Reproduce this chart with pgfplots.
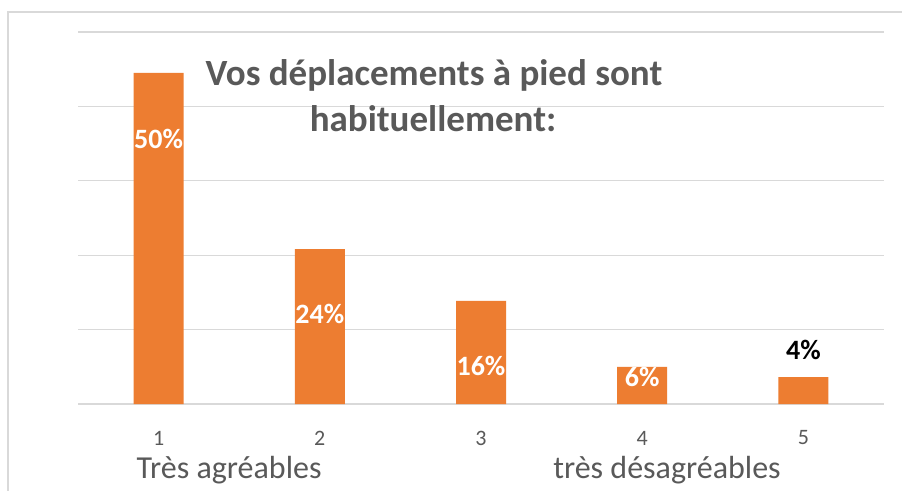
\documentclass[border=0pt]{standalone}
\usepackage{pgfplots}
\pgfplotsset{compat=1.18}
\usepackage{fontspec}
\setmainfont{Carlito}
\definecolor{barorange}{HTML}{ED7D31}
\definecolor{gridgray}{HTML}{D9D9D9}
\definecolor{txtgray}{HTML}{595959}
\begin{document}
\begin{tikzpicture}
\useasboundingbox (0pt,0pt) rectangle (902pt,490pt);
\clip (0pt,0pt) rectangle (902pt,490pt);
\fill[white] (0pt,0pt) rectangle (902pt,490pt);
\draw[gridgray, line width=1.2pt] (8pt,-20pt) -- (8pt,478pt) -- (930pt,478pt);
\begin{axis}[
  at={(78pt,86pt)}, anchor=south west,
  width=806pt, height=372pt, scale only axis,
  xmin=0.5, xmax=5.5, ymin=0, ymax=5,
  axis line style={draw=none},
  major tick length=0pt,
  xtick={1,2,3,4,5},
  ytick={0,1,2,3,4,5}, yticklabels={},
  ymajorgrids,
  major grid style={draw=gridgray, line width=1.2pt},
  /pgf/number format/assume math mode=true,
  xticklabel style={anchor=center, yshift=-34pt, font=\fontsize{22pt}{26pt}\selectfont, text=txtgray},
  clip=false,
]
\addplot[ybar, bar width=50pt, fill=barorange, draw=none]
  coordinates {(1,4.45) (2,2.08) (3,1.385) (4,0.50) (5,0.36)};
\addplot[only marks, mark=none, nodes near coords, point meta=explicit symbolic,
  every node near coord/.style={anchor=center, text=white, font=\bfseries\fontsize{28pt}{30pt}\selectfont}]
  coordinates {(1,3.56) [50\%] (2,1.21) [24\%] (3,0.51) [16\%] (4,0.36) [6\%]};
\addplot[only marks, mark=none, nodes near coords, point meta=explicit symbolic,
  every node near coord/.style={anchor=center, text=black, font=\bfseries\fontsize{28pt}{30pt}\selectfont}]
  coordinates {(5,0.73) [4\%]};
\end{axis}
\node[anchor=base, text=txtgray, font=\bfseries\fontsize{37pt}{44pt}\selectfont] at (434pt,404pt) {Vos déplacements à pied sont};
\node[anchor=base, text=txtgray, font=\bfseries\fontsize{37pt}{44pt}\selectfont] at (433pt,358pt) {habituellement:};
\node[anchor=center, text=txtgray, font=\fontsize{32pt}{36pt}\selectfont] at (229pt,20pt) {Très agréables};
\node[anchor=center, text=txtgray, font=\fontsize{32pt}{36pt}\selectfont] at (667pt,20pt) {très désagréables};
\end{tikzpicture}
\end{document}
